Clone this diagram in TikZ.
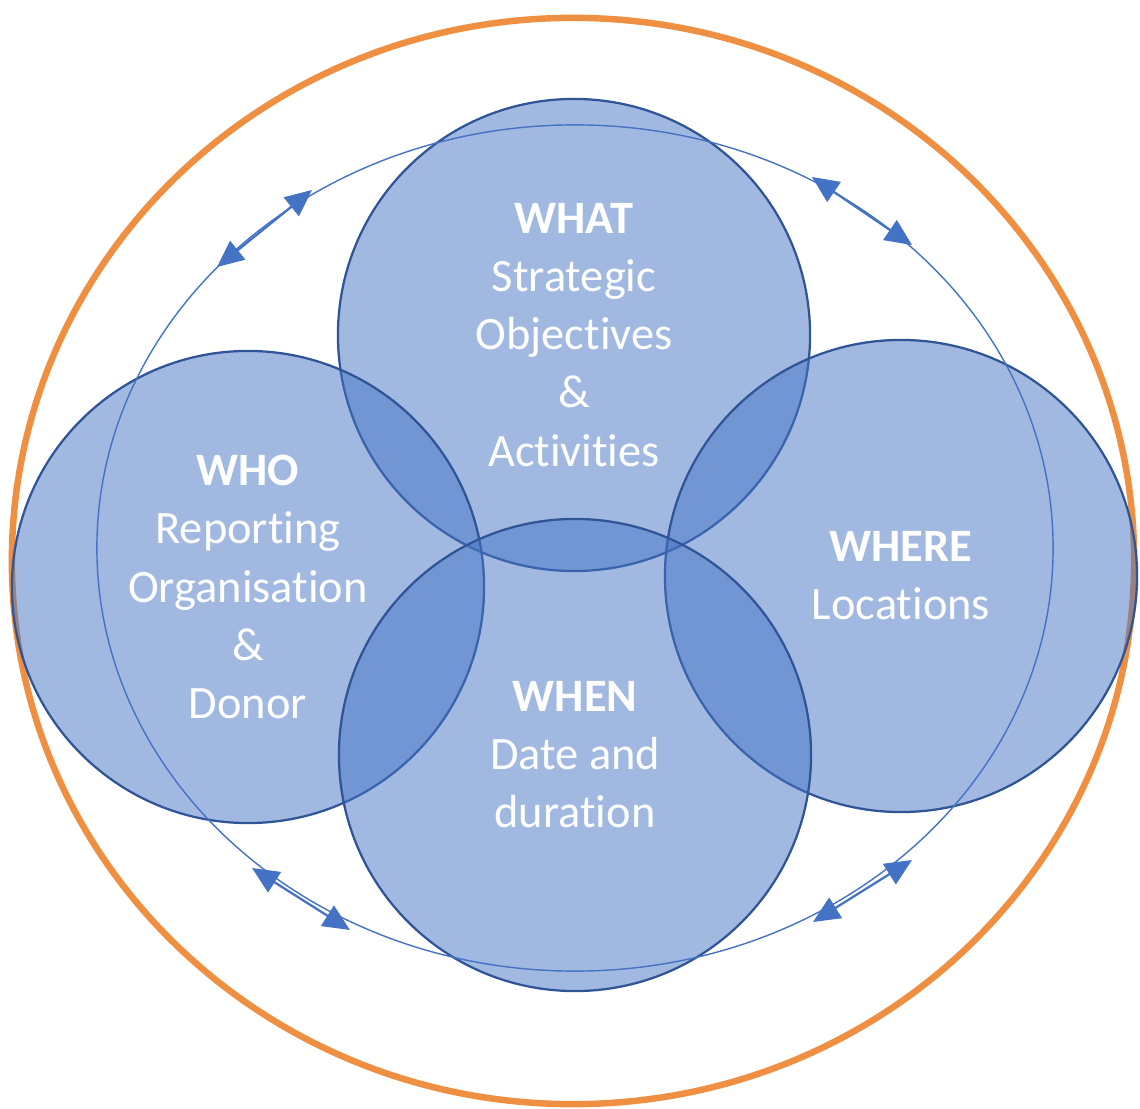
\documentclass[tikz,border=0pt]{standalone}
\usepackage{fontspec}
\setmainfont{Carlito}[Ligatures=NoCommon, RawFeature={-liga;-clig;-calt;-dlig}]
\usetikzlibrary{arrows.meta}
\definecolor{fillblue}{HTML}{4472C4}
\definecolor{edgeblue}{HTML}{2F5597}
\definecolor{ringorange}{HTML}{EF8F42}
\newcommand{\nolig}{\kern0pt }
\tikzset{
  venn/.style={circle, minimum size=11.8cm, inner sep=0pt, draw=edgeblue, line width=1.6pt,
    fill=fillblue, fill opacity=0.5, text opacity=1, text=white, align=center,
    font=\fontsize{33}{41.3}\selectfont},
  cyclearrow/.style={draw=fillblue, line width=1.6pt, {Triangle[length=19pt,width=17pt]}-{Triangle[length=19pt,width=17pt]}}
}
\begin{document}
\begin{tikzpicture}[x=0.025cm, y=-0.025cm]
\useasboundingbox (0,0) rectangle (1140,1109);
% outer orange ring
\draw[ringorange, line width=4.6pt] (573,561) ellipse [x radius=14.025cm, y radius=13.575cm];
% circles
\node[venn] (what) at (574,335) {\textbf{WHAT}\\Strategic\\Objectives\\\&\\Activit\nolig ies};
\node[venn] (who) at (248,587) {\textbf{WHO}\\Report\nolig ing\\Organisat\nolig ion\\\&\\Donor};
\node[venn] (where) at (901,576) {\textbf{WHERE}\\Locations};
\node[venn] (when) at (575,755) {\textbf{WHEN}\\Date and\\durat\nolig ion};
% thin cycle ellipse
\draw[fillblue, line width=1pt] (575,548) ellipse [x radius=11.95cm, y radius=10.575cm];
% arrow end points
\coordinate (tl1) at (217,267); \coordinate (tl2) at (312,190);
\coordinate (tr1) at (812,177); \coordinate (tr2) at (912,245);
\coordinate (bl1) at (252,868); \coordinate (bl2) at (350,930);
\coordinate (br1) at (912,860); \coordinate (br2) at (813,922);
\draw[cyclearrow] (tl1) -- (tl2);
\draw[cyclearrow] (tr1) -- (tr2);
\draw[cyclearrow] (bl1) -- (bl2);
\draw[cyclearrow] (br1) -- (br2);
\end{tikzpicture}
\end{document}
